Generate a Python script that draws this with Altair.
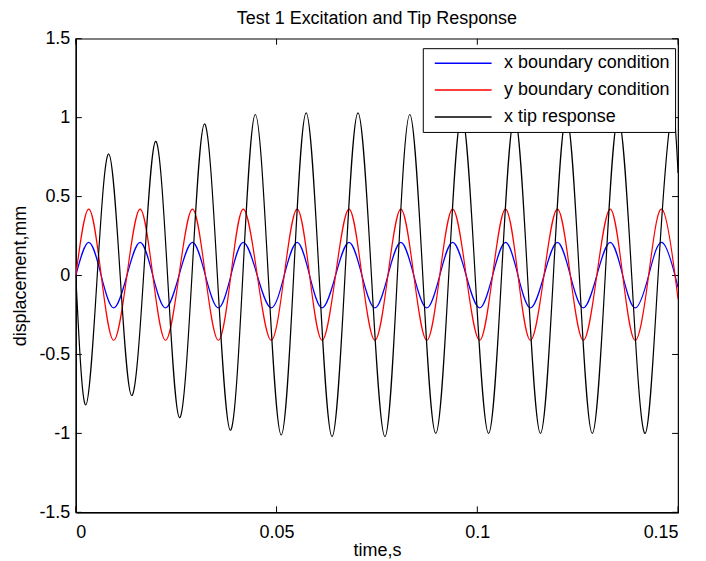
import altair as alt
import pandas as pd

# key times (s) of the excitation signals: extrema and zero crossings
exc_t = [0, 0.00323, 0.00633, 0.00944, 0.01273, 0.01602, 0.01918, 0.02235, 0.02570, 0.02906,
         0.03228, 0.03551, 0.03862, 0.04172, 0.04520, 0.04867, 0.05190, 0.05513, 0.05824, 0.06134,
         0.06469, 0.06805, 0.07127, 0.07450, 0.07773, 0.08096, 0.08419, 0.08742, 0.09064, 0.09387,
         0.09723, 0.10058, 0.10381, 0.10703, 0.11014, 0.11324, 0.11660, 0.11995, 0.12318, 0.12641,
         0.12976, 0.13311, 0.13622, 0.13932, 0.14267, 0.14602, 0.14925, 0.15]

x_bc = [0, 0.21, 0, -0.205, 0, 0.21, 0, -0.205, 0, 0.21,
        0, -0.205, 0, 0.21, 0, -0.205, 0, 0.21, 0, -0.205,
        0, 0.21, 0, -0.205, 0, 0.21, 0, -0.205, 0, 0.21,
        0, -0.205, 0, 0.21, 0, -0.205, 0, 0.21, 0, -0.205,
        0, 0.21, 0, -0.205, 0, 0.21, 0, -0.075]

y_bc = [0, 0.42, 0, -0.41, 0, 0.42, 0, -0.41, 0, 0.42,
        0, -0.41, 0, 0.42, 0, -0.41, 0, 0.42, 0, -0.41,
        0, 0.42, 0, -0.41, 0, 0.42, 0, -0.41, 0, 0.42,
        0, -0.41, 0, 0.42, 0, -0.41, 0, 0.42, 0, -0.41,
        0, 0.42, 0, -0.41, 0, 0.42, 0, -0.15]

# key times (s) of the tip response
tip_t = [0, 0.00248, 0.00534, 0.00820, 0.01105, 0.01391, 0.01689, 0.01987, 0.02285, 0.02583,
         0.02893, 0.03204, 0.03526, 0.03849, 0.04160, 0.04470, 0.04793, 0.05116, 0.05426, 0.05737,
         0.06060, 0.06382, 0.06705, 0.07028, 0.07363, 0.07699, 0.08009, 0.08319, 0.08642, 0.08965,
         0.09288, 0.09611, 0.09946, 0.10281, 0.10604, 0.10927, 0.11250, 0.11573, 0.11895, 0.12218,
         0.12541, 0.12864, 0.13187, 0.13510, 0.13845, 0.14180, 0.14503, 0.14826, 0.15]

x_tip = [0, -0.82, 0, 0.77, 0, -0.76, 0, 0.85, 0, -0.90,
         0, 0.96, 0, -0.98, 0, 1.02, 0, -1.01, 0, 1.03,
         0, -1.02, 0, 1.03, 0, -1.02, 0, 1.02, 0, -1.00,
         0, 1.02, 0, -1.00, 0, 1.01, 0, -1.00, 0, 1.01,
         0, -1.00, 0, 1.00, 0, -1.00, 0, 1.00, 0.65]

series_names = ["x boundary condition", "y boundary condition", "x tip response"]
series_colors = ["#0000ff", "#ff0000", "#000000"]

x_ticks = [0, 0.05, 0.1, 0.15]
y_ticks = [-1.5, -1, -0.5, 0, 0.5, 1, 1.5]

rows = []
for t, v in zip(exc_t, x_bc):
    rows.append({"t": t, "v": v, "s": series_names[0]})
for t, v in zip(exc_t, y_bc):
    rows.append({"t": t, "v": v, "s": series_names[1]})
for t, v in zip(tip_t, x_tip):
    rows.append({"t": t, "v": v, "s": series_names[2]})
df = pd.DataFrame(rows)

W, H = 604, 475
FONT = "Liberation Sans"

xscale = alt.Scale(domain=[0, 0.15], nice=False, zero=False)
yscale = alt.Scale(domain=[-1.5, 1.5], nice=False)

lines = alt.Chart(df).mark_line(interpolate="natural", strokeWidth=1.2, clip=True).encode(
    x=alt.X("t:Q", scale=xscale,
            axis=alt.Axis(values=x_ticks, labelExpr="datum.value + ''", tickSize=0,
                          labelPadding=11, title="time,s", titlePadding=0, grid=False,
                          domainColor="black", domainWidth=1.2)),
    y=alt.Y("v:Q", scale=yscale,
            axis=alt.Axis(values=y_ticks, labelExpr="datum.value + ''", tickSize=0,
                          labelPadding=6, title="displacement,mm", titlePadding=9, grid=False,
                          domainColor="black", domainWidth=1.2)),
    color=alt.Color("s:N", scale=alt.Scale(domain=series_names, range=series_colors),
                    legend=alt.Legend(title=None, orient="none", legendX=348, legendY=9.5,
                                      symbolType="stroke", symbolSize=3249, symbolStrokeWidth=1.5,
                                      clipHeight=20, rowPadding=7, padding=5, symbolOffset=6,
                                      labelOffset=11.5, labelFontSize=18, labelFont=FONT,
                                      labelColor="black", strokeColor="black", fillColor="white",
                                      labelLimit=400)),
    detail="s:N",
)

xt = pd.DataFrame({"t": x_ticks})
yt = pd.DataFrame({"v": y_ticks})
TL = 6
xt_bottom = alt.Chart(xt).mark_rule(color="black", strokeWidth=1).encode(
    x=alt.X("t:Q", scale=xscale), y=alt.value(H), y2=alt.value(H - TL))
xt_top = alt.Chart(xt).mark_rule(color="black", strokeWidth=1).encode(
    x=alt.X("t:Q", scale=xscale), y=alt.value(0), y2=alt.value(TL))
yt_left = alt.Chart(yt).mark_rule(color="black", strokeWidth=1).encode(
    y=alt.Y("v:Q", scale=yscale), x=alt.value(0), x2=alt.value(TL))
yt_right = alt.Chart(yt).mark_rule(color="black", strokeWidth=1).encode(
    y=alt.Y("v:Q", scale=yscale), x=alt.value(W), x2=alt.value(W - TL))

chart = alt.layer(xt_bottom, xt_top, yt_left, yt_right, lines).properties(
    width=W, height=H,
    title=alt.TitleParams("Test 1 Excitation and Tip Response", fontSize=18, fontWeight="normal",
                          font=FONT, color="black", anchor="middle", offset=2),
    autosize=alt.AutoSizeParams(type="none"),
    padding={"left": 68, "top": 30, "right": 20, "bottom": 50},
).configure(font=FONT).configure_axis(
    labelFont=FONT, labelFontSize=18, labelColor="black",
    titleFont=FONT, titleFontSize=18, titleFontWeight="normal", titleColor="black",
).configure_view(stroke="black", strokeWidth=1.2)

chart.save("out.html", embed_options={"renderer": "svg", "actions": False})
